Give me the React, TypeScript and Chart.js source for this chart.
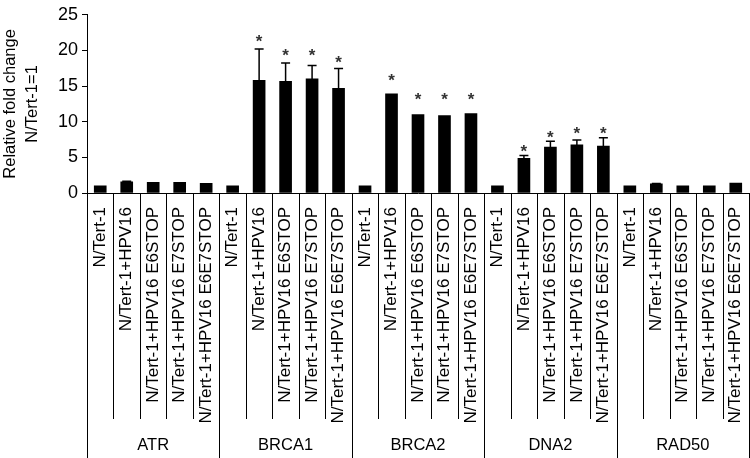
import React, { useEffect, useRef } from "react";
import { Chart, registerables } from "chart.js";

Chart.register(...registerables);

const genes = ["ATR", "BRCA1", "BRCA2", "DNA2", "RAD50"];
const cellLines = [
  "N/Tert-1",
  "N/Tert-1+HPV16",
  "N/Tert-1+HPV16 E6STOP",
  "N/Tert-1+HPV16 E7STOP",
  "N/Tert-1+HPV16 E6E7STOP",
];

const atrValues = [1, 1.55, 1.5, 1.5, 1.35];
const brca1Values = [1, 15.8, 15.65, 16.0, 14.7];
const brca2Values = [1, 13.9, 11.0, 10.85, 11.15];
const dna2Values = [1, 4.85, 6.45, 6.75, 6.6];
const rad50Values = [1, 1.3, 1.0, 1.0, 1.4];

const atrErr = [0, 0.1, 0, 0, 0];
const brca1Err = [0, 4.4, 2.6, 1.9, 2.75];
const brca2Err = [0, 0, 0, 0, 0];
const dna2Err = [0, 0.4, 0.8, 0.7, 1.15];
const rad50Err = [0, 0.05, 0, 0, 0];

// level (in fold change units) at which the significance asterisk sits; null = none
const atrStars = [null, null, null, null, null];
const brca1Stars = [null, 21.7, 19.8, 19.8, 18.7];
const brca2Stars = [null, 16.2, 13.6, 13.6, 13.6];
const dna2Stars = [null, 6.3, 8.3, 8.75, 8.75];
const rad50Stars = [null, null, null, null, null];

const yTicks = [0, 5, 10, 15, 20, 25];

const values = [...atrValues, ...brca1Values, ...brca2Values, ...dna2Values, ...rad50Values];
const errors = [...atrErr, ...brca1Err, ...brca2Err, ...dna2Err, ...rad50Err];
const stars = [...atrStars, ...brca1Stars, ...brca2Stars, ...dna2Stars, ...rad50Stars];
const labels = genes.flatMap(() => cellLines);

const FONT = "'Liberation Sans', Arial, sans-serif";

const annotations = {
  id: "annotations",
  afterDatasetsDraw(chart: any) {
    const ctx = chart.ctx;
    const x = chart.scales.x;
    const y = chart.scales.y;
    ctx.save();
    ctx.strokeStyle = "#000";
    ctx.lineWidth = 1.5;
    errors.forEach((e, i) => {
      if (!e) return;
      const cx = x.getPixelForValue(i);
      const y0 = y.getPixelForValue(values[i]);
      const y1 = y.getPixelForValue(values[i] + e);
      ctx.beginPath();
      ctx.moveTo(cx, y0);
      ctx.lineTo(cx, y1);
      ctx.moveTo(cx - 4.5, y1);
      ctx.lineTo(cx + 4.5, y1);
      ctx.stroke();
    });
    ctx.fillStyle = "#333";
    ctx.font = `bold 17px ${FONT}`;
    ctx.textAlign = "center";
    ctx.textBaseline = "middle";
    stars.forEach((s, i) => {
      if (s == null) return;
      const cx = x.getPixelForValue(i);
      ctx.fillText("*", cx, y.getPixelForValue(s) + 4);
    });
    ctx.restore();
  },
  afterDraw(chart: any) {
    const ctx = chart.ctx;
    const x = chart.scales.x;
    const area = chart.chartArea;
    const n = labels.length;
    const step = x.getPixelForValue(1) - x.getPixelForValue(0);
    ctx.save();
    ctx.strokeStyle = "#000";
    ctx.lineWidth = 1;
    for (let i = 0; i <= n; i++) {
      const px = Math.round(x.getPixelForValue(i) - step / 2) + 0.5;
      const isGroup = i % cellLines.length === 0;
      const bottom = isGroup ? chart.height : area.bottom + 226;
      ctx.beginPath();
      ctx.moveTo(px, area.bottom);
      ctx.lineTo(px, bottom);
      ctx.stroke();
    }
    ctx.fillStyle = "#000";
    ctx.font = `16.5px ${FONT}`;
    ctx.textAlign = "center";
    ctx.textBaseline = "middle";
    genes.forEach((g, gi) => {
      const a = x.getPixelForValue(gi * cellLines.length);
      const b = x.getPixelForValue(gi * cellLines.length + cellLines.length - 1);
      ctx.fillText(g, (a + b) / 2, area.bottom + 252);
    });
    ctx.restore();
  },
};

export default function App() {
  const ref = useRef<HTMLCanvasElement | null>(null);
  useEffect(() => {
    if (!ref.current) return;
    const chart = new Chart(ref.current, {
      type: "bar",
      data: {
        labels,
        datasets: [
          {
            data: values,
            backgroundColor: "#000",
            borderWidth: 0,
            barThickness: 12,
          },
        ],
      },
      options: {
        responsive: false,
        animation: false,
        layout: { padding: { top: 0, right: 1, left: 0, bottom: 0 } },
        plugins: {
          legend: { display: false },
          tooltip: { enabled: false },
        },
        scales: {
          x: {
            grid: { display: false },
            border: { display: true, color: "#000", width: 1 },
            ticks: {
              autoSkip: false,
              maxRotation: 90,
              minRotation: 90,
              color: "#000",
              padding: 6,
              font: { family: FONT, size: 17 },
            },
            afterFit(scale: any) {
              scale.height = 265;
              scale.paddingLeft = 0;
              scale.paddingRight = 0;
            },
          },
          y: {
            min: 0,
            max: 25,
            afterBuildTicks(scale: any) {
              scale.ticks = yTicks.map((v) => ({ value: v }));
            },
            grid: {
              drawOnChartArea: false,
              drawTicks: true,
              tickLength: 5,
              color: "#000",
            },
            border: { display: true, color: "#000", width: 1 },
            ticks: {
              color: "#000",
              padding: 4,
              font: { family: FONT, size: 18 },
            },
            title: {
              display: true,
              text: ["Relative fold change", "N/Tert-1=1"],
              color: "#000",
              font: { family: FONT, size: 16.5, lineHeight: 1.3 },
              padding: 0,
            },
            afterFit(scale: any) {
              scale.width = 87;
            },
          },
        },
      },
      plugins: [annotations],
    });
    return () => chart.destroy();
  }, []);
  return (
    <div style={{ position: "fixed", left: 0, top: 0, width: 750, height: 458, background: "#fff" }}>
      <canvas ref={ref} width={750} height={458} />
    </div>
  );
}
